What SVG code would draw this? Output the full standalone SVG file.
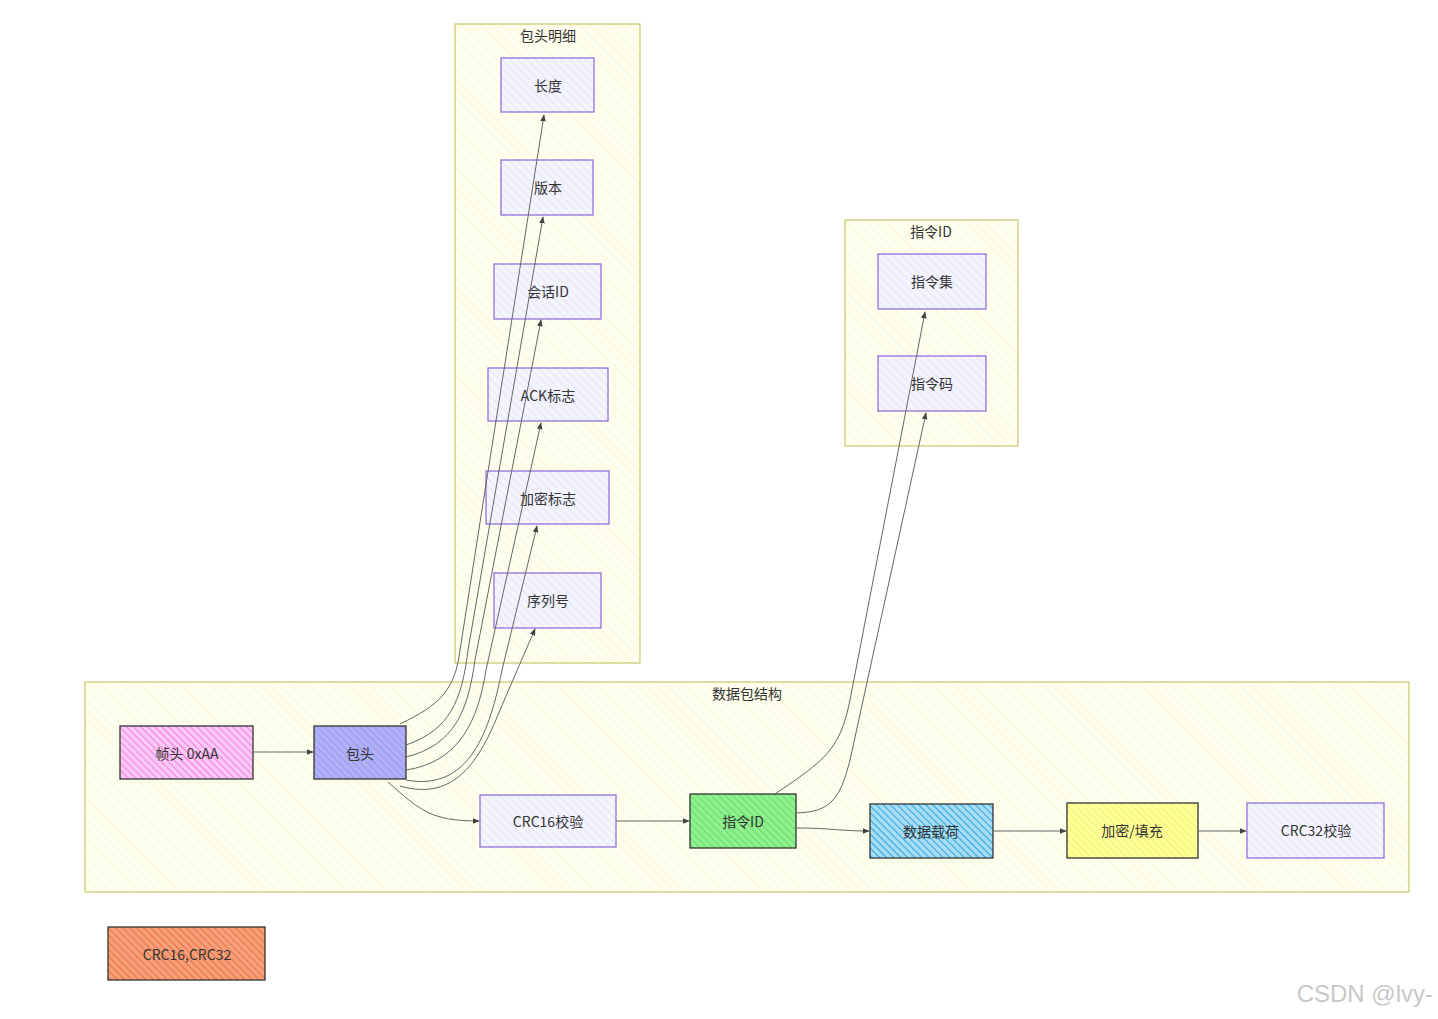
<svg xmlns="http://www.w3.org/2000/svg" width="1438" height="1019" viewBox="0 0 1438 1019">
<defs>
<pattern id="hL" width="6" height="6" patternUnits="userSpaceOnUse" patternTransform="rotate(-45)"><rect width="6" height="6" fill="#f4f4ff"/><line x1="0" y1="0" x2="0" y2="6" stroke="#d6d6f0" stroke-width="1"/></pattern>
<pattern id="hY" width="7" height="7" patternUnits="userSpaceOnUse" patternTransform="rotate(-45)"><rect width="7" height="7" fill="#ffffef"/><line x1="0" y1="0" x2="0" y2="7" stroke="#f2f2c4" stroke-width="1"/></pattern>
<pattern id="hP" width="5" height="5" patternUnits="userSpaceOnUse" patternTransform="rotate(-45)"><rect width="5" height="5" fill="#fbc8f5"/><line x1="0" y1="0" x2="0" y2="5" stroke="#ee66dd" stroke-width="1.5"/></pattern>
<pattern id="hV" width="5" height="5" patternUnits="userSpaceOnUse" patternTransform="rotate(-45)"><rect width="5" height="5" fill="#b0b0f5"/><line x1="0" y1="0" x2="0" y2="5" stroke="#9090ee" stroke-width="1.5"/></pattern>
<pattern id="hG" width="5" height="5" patternUnits="userSpaceOnUse" patternTransform="rotate(-45)"><rect width="5" height="5" fill="#8ff08f"/><line x1="0" y1="0" x2="0" y2="5" stroke="#5bd65b" stroke-width="1.5"/></pattern>
<pattern id="hB" width="5" height="5" patternUnits="userSpaceOnUse" patternTransform="rotate(-45)"><rect width="5" height="5" fill="#a8dcf5"/><line x1="0" y1="0" x2="0" y2="5" stroke="#2aa8e0" stroke-width="2"/></pattern>
<pattern id="hYe" width="5" height="5" patternUnits="userSpaceOnUse" patternTransform="rotate(-45)"><rect width="5" height="5" fill="#ffff9a"/><line x1="0" y1="0" x2="0" y2="5" stroke="#f0f060" stroke-width="1.5"/></pattern>
<pattern id="hO" width="5" height="5" patternUnits="userSpaceOnUse" patternTransform="rotate(-45)"><rect width="5" height="5" fill="#f5a07a"/><line x1="0" y1="0" x2="0" y2="5" stroke="#ee7040" stroke-width="2"/></pattern>
<marker id="ar" viewBox="0 0 10 10" refX="9" refY="5" markerWidth="7" markerHeight="7" orient="auto-start-reverse"><path d="M0,1 L10,5 L0,9 z" fill="#444"/></marker>
</defs>
<style>
.cl{fill:url(#hY);stroke:#bdbd4a;stroke-width:1}
.n{fill:url(#hL);stroke:#9370db;stroke-width:1.3}
.t{font-family:"Noto Sans CJK SC","Liberation Sans",sans-serif;font-size:14px;fill:#333;text-anchor:middle;dominant-baseline:central}
.e{fill:none;stroke:#666;stroke-width:1;marker-end:url(#ar)}
</style>
<rect width="1438" height="1019" fill="#fff"/>
<g id="cluster-header"><rect class="cl" x="455" y="24" width="185" height="639"/><text class="t" x="548" y="35">包头明细</text></g>
<g id="cluster-cmd"><rect class="cl" x="845" y="220" width="173" height="226"/><text class="t" x="931" y="231">指令ID</text></g>
<g id="cluster-packet"><rect class="cl" x="85" y="682" width="1324" height="210"/><text class="t" x="747" y="693">数据包结构</text></g>
<g id="len"><rect class="n" x="501" y="58" width="93" height="54"/><text class="t" x="548" y="85">长度</text></g>
<g id="ver"><rect class="n" x="501" y="160" width="92" height="55"/><text class="t" x="548" y="187">版本</text></g>
<g id="sess"><rect class="n" x="494" y="264" width="107" height="55"/><text class="t" x="548" y="291">会话ID</text></g>
<g id="ack"><rect class="n" x="488" y="368" width="120" height="53"/><text class="t" x="548" y="395">ACK标志</text></g>
<g id="enc"><rect class="n" x="486" y="471" width="123" height="53"/><text class="t" x="548" y="498">加密标志</text></g>
<g id="seq"><rect class="n" x="494" y="573" width="107" height="55"/><text class="t" x="548" y="600">序列号</text></g>
<g id="cset"><rect class="n" x="878" y="254" width="108" height="55"/><text class="t" x="932" y="281">指令集</text></g>
<g id="ccode"><rect class="n" x="878" y="356" width="108" height="55"/><text class="t" x="932" y="383">指令码</text></g>
<g id="frame"><rect x="120" y="726" width="133" height="53" fill="url(#hP)" stroke="#333" stroke-width="1.3"/><text class="t" x="187" y="753">帧头 0xAA</text></g>
<g id="head"><rect x="314" y="726" width="92" height="53" fill="url(#hV)" stroke="#333" stroke-width="1.3"/><text class="t" x="360" y="753">包头</text></g>
<g id="crc16"><rect class="n" x="480" y="795" width="136" height="52"/><text class="t" x="548" y="821">CRC16校验</text></g>
<g id="cmdid"><rect x="690" y="794" width="106" height="54" fill="url(#hG)" stroke="#333" stroke-width="1.3"/><text class="t" x="743" y="821">指令ID</text></g>
<g id="payload"><rect x="870" y="804" width="123" height="54" fill="url(#hB)" stroke="#333" stroke-width="1.3"/><text class="t" x="931" y="831">数据载荷</text></g>
<g id="pad"><rect x="1067" y="803" width="131" height="55" fill="url(#hYe)" stroke="#333" stroke-width="1.3"/><text class="t" x="1132" y="830">加密/填充</text></g>
<g id="crc32"><rect class="n" x="1247" y="803" width="137" height="55"/><text class="t" x="1316" y="830">CRC32校验</text></g>
<g id="crcnote"><rect x="108" y="927" width="157" height="53" fill="url(#hO)" stroke="#333" stroke-width="1.3"/><text class="t" x="187" y="954">CRC16,CRC32</text></g>
<g id="edges">
<path class="e" d="M253,752 L313,752"/>
<path class="e" d="M400,724 C440,705 455,690 460,650 L544,115"/>
<path class="e" d="M406,745 C450,730 462,700 468,650 L543,217"/>
<path class="e" d="M406,757 C455,745 468,710 475,660 L541,320"/>
<path class="e" d="M406,770 C460,762 478,720 486,670 L541,423"/>
<path class="e" d="M406,780 C470,792 490,730 502,670 L537,526"/>
<path class="e" d="M400,786 C455,802 480,760 500,710 L535,629"/>
<path class="e" d="M388,782 C420,810 430,821 479,821"/>
<path class="e" d="M616,821 L689,821"/>
<path class="e" d="M775,794 C825,760 840,750 850,700 L925,312"/>
<path class="e" d="M796,813 C830,812 840,800 850,760 L926,413"/>
<path class="e" d="M796,828 C830,828 840,831 869,831"/>
<path class="e" d="M993,831 L1066,831"/>
<path class="e" d="M1198,831 L1246,831"/>
</g>
<text x="1433" y="1002" font-family="Liberation Sans,sans-serif" font-size="24" fill="#c8c8c8" text-anchor="end">CSDN @lvy-</text>
</svg>
